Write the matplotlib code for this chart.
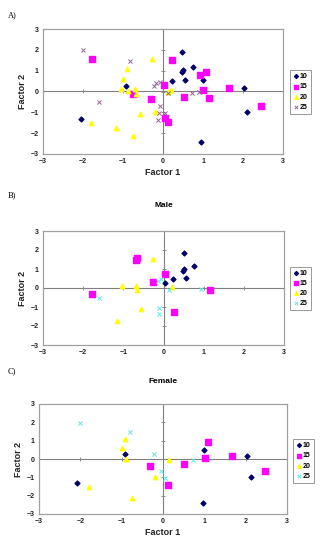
import matplotlib
matplotlib.use("Agg")
import matplotlib.pyplot as plt

plt.rcParams['font.family'] = ['Liberation Sans', 'DejaVu Sans']

groups = ["10", "15", "20", "25"]

# panel A (all)
a_10 = [(0.48, 1.89), (0.76, 1.20), (0.47, 0.95), (0.50, 1.03), (0.23, 0.52), (0.55, 0.57),
        (0.99, 0.53), (-0.93, 0.26), (2.03, 0.17), (-2.06, -1.30), (2.11, -0.98), (0.95, -2.40)]
a_15 = [(-1.78, 1.57), (0.23, 1.49), (1.07, 0.93), (0.93, 0.77), (0.02, 0.33), (1.01, 0.07),
        (1.66, 0.18), (-0.74, -0.10), (-0.30, -0.37), (0.52, -0.26), (1.15, -0.33), (2.46, -0.68),
        (0.05, -1.27), (0.13, -1.44)]
a_20 = [(-0.28, 1.55), (-0.91, 1.06), (-0.99, 0.61), (-1.06, 0.14), (-0.88, 0.04), (-0.69, 0.10),
        (-0.68, -0.12), (-0.57, -1.09), (-1.18, -1.74), (-1.79, -1.49), (-0.75, -2.13), (-0.21, -0.96),
        (0.19, 0.09), (0.13, -0.02)]
a_25 = [(-2.00, 1.98), (-0.82, 1.47), (-1.61, -0.52), (-0.23, 0.26), (-0.17, 0.39), (-0.08, 0.44),
        (0.13, -0.07), (0.72, -0.07), (0.91, -0.02), (-0.08, -0.69), (-0.10, -1.04), (0.04, -1.04),
        (-0.12, -1.38)]

# panel B (male)
b_10 = [(0.50, 1.86), (0.77, 1.18), (0.48, 0.92), (0.52, 1.00), (0.24, 0.48), (0.57, 0.55), (0.03, 0.24)]
b_15 = [(-1.79, -0.32), (-0.69, 1.49), (-0.65, 1.56), (0.04, 0.74), (-0.27, 0.29), (1.17, -0.13), (0.25, -1.27)]
b_20 = [(-0.27, 1.53), (-1.04, 0.10), (-0.68, 0.10), (-0.66, -0.11), (-0.56, -1.09), (-1.17, -1.76), (0.21, 0.06)]
b_25 = [(-1.60, -0.52), (-0.13, 0.38), (-0.06, 0.45), (0.13, -0.08), (0.93, -0.03), (-0.11, -1.04), (-0.11, -1.39)]

# panel C (female)
c_10 = [(-0.93, 0.25), (0.99, 0.51), (2.03, 0.16), (-2.07, -1.30), (2.13, -0.98), (0.96, -2.40)]
c_15 = [(1.09, 0.93), (1.02, 0.07), (1.68, 0.18), (-0.31, -0.36), (0.52, -0.26), (2.47, -0.68), (0.12, -1.44)]
c_20 = [(-0.92, 1.07), (-1.00, 0.60), (-0.89, 0.00), (0.14, -0.05), (-0.20, -0.98), (-1.78, -1.50), (-0.76, -2.15)]
c_25 = [(-2.01, 1.99), (-0.81, 1.46), (-0.22, 0.27), (0.73, -0.05), (-0.06, -0.66), (0.06, -1.02)]

ticks = [-3, -2, -1, 0, 1, 2, 3]

fig = plt.figure(figsize=(3.2, 5.5), dpi=100)
W, H = 320, 550


def px_axes(l, t, r, b):
    return fig.add_axes([l / W, (H - b) / H, (r - l) / W, (b - t) / H])


def panel(ax, series, c25, xlabel, legbox):
    styles = [
        dict(marker='D', color='#000066', s=6),
        dict(marker='s', color='#ff00ff', s=13),
        dict(marker='^', color='#ffff00', s=10),
        dict(marker='x', color=c25, s=9, linewidths=0.7),
    ]
    for name, pts, st in zip(groups, series, styles):
        xs = [p[0] for p in pts]
        ys = [p[1] for p in pts]
        ax.scatter(xs, ys, label=name, zorder=3, **st)
    ax.set_xlim(-3, 3)
    ax.set_ylim(-3, 3)
    ax.set_xticks(ticks)
    ax.set_yticks(ticks)
    ax.tick_params(length=0, labelsize=5, pad=3, labelcolor='#222222')
    for lab in ax.get_xticklabels() + ax.get_yticklabels():
        lab.set_fontweight('bold')
    for sp in ax.spines.values():
        sp.set_color('#a0a0a0')
        sp.set_linewidth(0.9)
    # zero axes with tick marks
    sx = ax.secondary_xaxis(0.5)
    sx.set_xticks(ticks)
    sx.set_xticklabels([])
    sx.tick_params(direction='inout', length=2.5, color='#808080', width=0.6)
    for sp in sx.spines.values():
        sp.set_color('#808080')
    sy = ax.secondary_yaxis(0.5)
    sy.set_yticks(ticks)
    sy.set_yticklabels([])
    sy.tick_params(direction='inout', length=2.5, color='#808080', width=0.6)
    for sp in sy.spines.values():
        sp.set_color('#808080')
    ax.set_ylabel('Factor 2', fontsize=6.5, fontweight='bold', labelpad=3, color='#222222')
    if xlabel:
        ax.set_xlabel('Factor 1', fontsize=6.5, fontweight='bold', labelpad=2, color='#222222')
    l, t, r, b = legbox
    leg = ax.legend(loc='center', bbox_to_anchor=((l + r) / 2 / W, (H - (t + b) / 2) / H),
                    bbox_transform=fig.transFigure, fontsize=5, frameon=True, fancybox=False,
                    handletextpad=0.2, handlelength=0.8, borderpad=0.45, labelspacing=0.45,
                    borderaxespad=0, markerscale=0.8)
    leg.get_frame().set_edgecolor('#808080')
    leg.get_frame().set_linewidth(0.7)
    for t_ in leg.get_texts():
        t_.set_fontweight('bold')


axA = px_axes(43, 29, 283, 154)
panel(axA, [a_10, a_15, a_20, a_25], '#996699', True, (290, 71, 311, 113))
axB = px_axes(43, 231, 284, 345)
panel(axB, [b_10, b_15, b_20, b_25], '#66e6e6', False, (290, 270, 311, 307))
axB.set_title('Male', fontsize=6, fontweight='bold', pad=17)
axC = px_axes(39, 404, 287, 514)
panel(axC, [c_10, c_15, c_20, c_25], '#66e6e6', True, (295, 442, 312, 480))
axC.set_title('Female', fontsize=6, fontweight='bold', pad=15)

for lab, y in [('A)', 15), ('B)', 195), ('C)', 371)]:
    fig.text(8 / W, 1 - y / H, lab, family='Liberation Serif', fontsize=6, va='center')

fig.savefig('out.png', dpi=100)
